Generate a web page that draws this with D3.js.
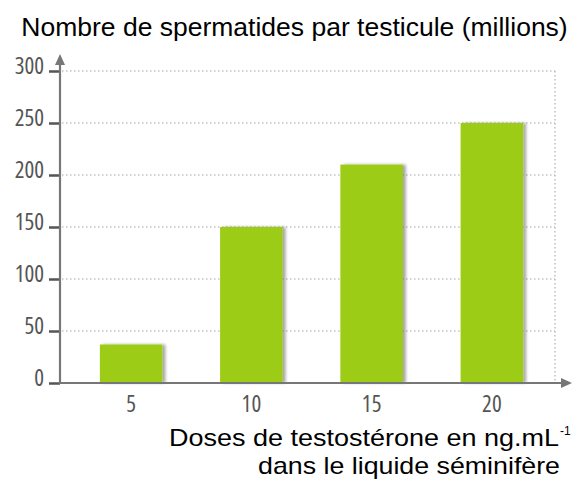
<!DOCTYPE html>
<html><head><meta charset="utf-8">
<script src="https://cdn.jsdelivr.net/npm/d3@7"></script>
<style>body{margin:0;background:#fff}</style>
</head><body>
<script>
const categories = ["5", "10", "15", "20"];
const values = [37, 150, 210, 250];
const yTicks = [0, 50, 100, 150, 200, 250, 300];
const title = "Nombre de spermatides par testicule (millions)";
const xTitle1 = "Doses de testostérone en ng.mL";
const xTitle2 = "dans le liquide séminifère";

const W = 572, H = 480;
const svg = d3.select("body").append("svg").attr("width", W).attr("height", H);

const x0 = 60, y0 = 383;
const x = d3.scaleBand().domain(categories).range([71, 552]).paddingInner(0.48).paddingOuter(0.24);
const y = d3.scaleLinear().domain([0, 300]).range([y0, 71]);

const defs = svg.append("defs");
const f = defs.append("filter").attr("id", "sh").attr("x", "-10%").attr("width", "130%");
f.append("feGaussianBlur").attr("in", "SourceAlpha").attr("stdDeviation", 1.5);
f.append("feOffset").attr("dx", 3).attr("dy", 0).attr("result", "b");
f.append("feComponentTransfer").append("feFuncA").attr("type", "linear").attr("slope", 0.35);
const m = f.append("feMerge"); m.append("feMergeNode"); m.append("feMergeNode").attr("in", "SourceGraphic");

// grid
svg.append("g").selectAll("line").data(yTicks.filter(d => d > 0)).join("line")
  .attr("x1", x0 + 2).attr("x2", 555).attr("y1", d => y(d)).attr("y2", d => y(d))
  .attr("stroke", "#a5a5a5").attr("stroke-width", 1.2).attr("stroke-dasharray", "1.5,2.5");
svg.append("line").attr("x1", 555).attr("x2", 555).attr("y1", y(300)).attr("y2", y0)
  .attr("stroke", "#b0b0b0").attr("stroke-width", 1.2).attr("stroke-dasharray", "1.5,2.5");

// bars
svg.append("g").selectAll("rect").data(values).join("rect")
  .attr("x", (d, i) => x(categories[i])).attr("width", x.bandwidth())
  .attr("y", d => y(d)).attr("height", d => y0 - y(d))
  .attr("fill", "#9dcc14").attr("filter", "url(#sh)");

// y axis
const ya = svg.append("g").attr("transform", `translate(${x0},0)`)
  .call(d3.axisLeft(y).tickValues(yTicks).tickSize(11).tickPadding(5));
ya.select(".domain").remove();
ya.selectAll("line").attr("stroke", "#555").attr("stroke-width", 2.5);
ya.selectAll("text").attr("font-family", "Open Sans, sans-serif").attr("font-size", 23)
  .attr("fill", "#555").attr("font-stretch", "condensed").attr("dy", "0.12em");
svg.append("line").attr("x1", x0).attr("x2", x0).attr("y1", y0 + 1).attr("y2", 60)
  .attr("stroke", "#777").attr("stroke-width", 2.2);
svg.append("path").attr("d", `M${x0 - 5},${65} L${x0},${54} L${x0 + 5},${65} Z`).attr("fill", "#777");

// x axis
const xa = svg.append("g").attr("transform", `translate(0,${y0})`)
  .call(d3.axisBottom(x).tickSize(0).tickPadding(0));
xa.select(".domain").remove();
xa.selectAll("text").attr("font-family", "Open Sans, sans-serif").attr("font-size", 23)
  .attr("font-stretch", "condensed").attr("fill", "#555").attr("dy", null).attr("y", 29);
svg.append("line").attr("x1", x0 - 1).attr("x2", 563).attr("y1", y0).attr("y2", y0)
  .attr("stroke", "#777").attr("stroke-width", 2.2);
svg.append("path").attr("d", `M${561},${y0 - 5} L${572},${y0} L${561},${y0 + 5} Z`).attr("fill", "#777");

// titles
svg.append("text").attr("x", 294.5).attr("y", 36).attr("text-anchor", "middle")
  .attr("font-family", "Liberation Sans, Arial, sans-serif").attr("font-size", 26.5).attr("fill", "#000")
  .text(title);
svg.append("text").attr("x", 169).attr("y", 446)
  .attr("font-family", "Liberation Sans, Arial, sans-serif").attr("font-size", 24).attr("fill", "#000")
  .attr("textLength", 390).attr("lengthAdjust", "spacingAndGlyphs")
  .text(xTitle1);
svg.append("text").attr("x", 560).attr("y", 435)
  .attr("font-family", "Liberation Sans, Arial, sans-serif").attr("font-size", 12).attr("fill", "#000")
  .text("-1");
svg.append("text").attr("x", 258).attr("y", 474)
  .attr("font-family", "Liberation Sans, Arial, sans-serif").attr("font-size", 24).attr("fill", "#000")
  .attr("textLength", 302).attr("lengthAdjust", "spacingAndGlyphs")
  .text(xTitle2);
</script>
</body></html>
